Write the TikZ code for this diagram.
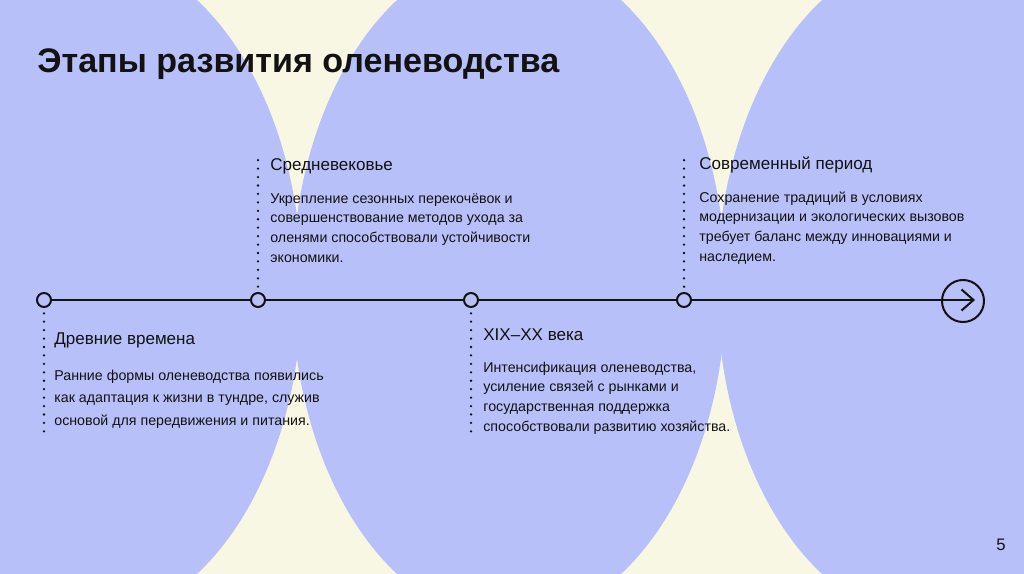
\documentclass[tikz,border=0pt]{standalone}
\usepackage{fontspec}
\setmainfont{Liberation Sans}
\usetikzlibrary{arrows.meta}
\definecolor{lavender}{RGB}{184,192,250}
\definecolor{cream}{RGB}{248,247,227}
\definecolor{ink}{RGB}{18,18,18}

\begin{document}
\begin{tikzpicture}[x=0.02cm,y=-0.02cm,
  blob/.style={fill=lavender,draw=none},
  axis/.style={draw=ink,line width=1.15pt},
  stop/.style={circle,draw=ink,fill=lavender,line width=1.15pt,minimum size=0.28cm,inner sep=0},
  endcap/.style={circle,draw=ink,line width=1.15pt,minimum size=0.84cm,inner sep=0},
  dots/.style={draw=ink,line width=1.45pt,line cap=round,dash pattern=on 0pt off 4.8pt},
  title/.style={font=\bfseries\fontsize{19.4}{23}\selectfont,text=ink,anchor=base west,inner sep=0},
  period/.style={font=\fontsize{9.7}{12}\selectfont,text=ink,anchor=base west,inner sep=0},
  note/.style={font=\fontsize{8.1}{11.1}\selectfont,text=ink,anchor=base west,inner sep=0,align=left},
  pagenum/.style={font=\fontsize{9.5}{11}\selectfont,text=ink,inner sep=0},
]
\useasboundingbox (0,0) rectangle (1024,574);
\fill[cream] (0,0) rectangle (1024,574);
\begin{scope}
\clip (0,0) rectangle (1024,574);
\foreach \cx in {85,509,934}{\fill[blob] (\cx,287) ellipse [x radius=4.34cm,y radius=6.7cm];}
\end{scope}

\node[title] (heading) at (37,73) {Этапы развития оленеводства};

\foreach \n/\x in {1/44,2/258,3/471,4/684}{\node[stop] (s\n) at (\x,300) {};}
\node[endcap] (fin) at (963,301) {};
\coordinate (tip) at (975,300);
\draw[axis] (s1) -- (s2);
\draw[axis] (s2) -- (s3);
\draw[axis] (s3) -- (s4);
\draw[axis,-{Straight Barb[length=6.8pt,width=12pt]}] (s4) -- (tip);

\coordinate (d1) at (44,433);
\coordinate (d2) at (258,160);
\coordinate (d3) at (471,433);
\coordinate (d4) at (684,160);
\draw[dots] ([yshift=-3pt]s1.south) -- (d1);
\draw[dots] ([yshift=3pt]s2.north) -- (d2);
\draw[dots] ([yshift=-3pt]s3.south) -- (d3);
\draw[dots] ([yshift=3pt]s4.north) -- (d4);

% notes are anchored at the baseline of their last line
\node[period] (p1) at (54,344) {Древние времена};
\node[note,font=\fontsize{8.1}{12.6}\selectfont] (n1) at (54,425)
  {Ранние формы оленеводства появились\\как адаптация к жизни в тундре, служив\\основой для передвижения и питания.};
\node[period] (p2) at (270,171) {Средневековье};
\node[note] (n2) at (270,262)
  {Укрепление сезонных перекочёвок и\\совершенствование методов ухода за\\оленями способствовали устойчивости\\экономики.};
\node[period] (p3) at (483,340) {XIX–XX века};
\node[note] (n3) at (483,431)
  {Интенсификация оленеводства,\\усиление связей с рынками и\\государственная поддержка\\способствовали развитию хозяйства.};
\node[period] (p4) at (699,170) {Современный период};
\node[note] (n4) at (699,261)
  {Сохранение традиций в условиях\\модернизации и экологических вызовов\\требует баланс между инновациями и\\наследием.};

\node[pagenum] (pg) at (1001,545) {5};
\end{tikzpicture}
\end{document}
